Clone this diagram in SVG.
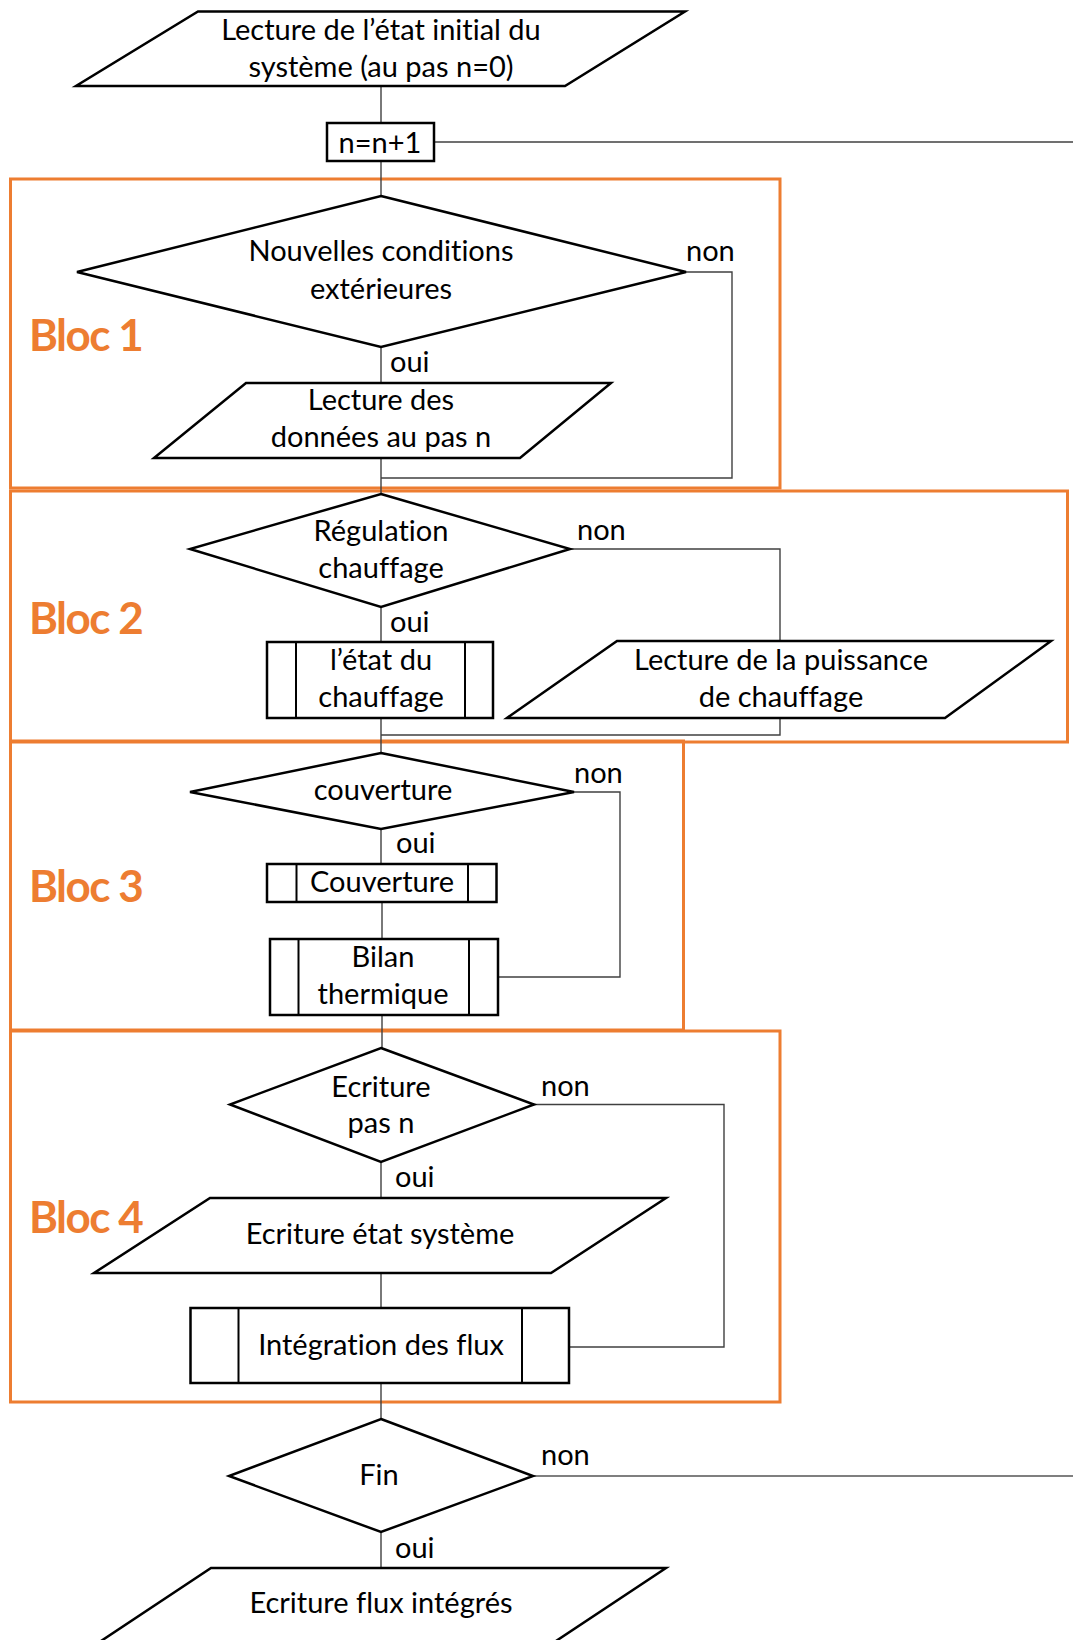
<svg xmlns="http://www.w3.org/2000/svg" width="1073" height="1640" viewBox="0 0 1073 1640">
<style>
.bg{fill:#ffffff}
.bloc{fill:none;stroke:#ED7D31;stroke-width:3}
.blt{font-family:Lato,"Open Sans",sans-serif;font-weight:bold;font-size:44px;letter-spacing:-1.5px;fill:#ED7D31}
.sh{fill:#ffffff;stroke:#000;stroke-width:2.5}
.in{fill:none;stroke:#000;stroke-width:2}
.t{font-family:Lato,"Open Sans",sans-serif;font-size:29px;fill:#000;text-anchor:middle;font-variant-ligatures:none}
.lb{font-family:Lato,"Open Sans",sans-serif;font-size:29px;fill:#000}
.cn{fill:none;stroke:#404040;stroke-width:1.4}
.cg{fill:none;stroke:#7f7f7f;stroke-width:2}
</style>
<rect class="bg" x="0" y="0" width="1073" height="1640"/>
<g id="blocs">
<rect class="bloc" x="10.5" y="179" width="769.5" height="309"/>
<rect class="bloc" x="10.5" y="491" width="1057" height="251"/>
<rect class="bloc" x="10.5" y="741" width="673" height="289"/>
<rect class="bloc" x="10.5" y="1031" width="769.5" height="371"/>
<text class="blt" x="29" y="351">Bloc 1</text>
<text class="blt" x="29" y="634">Bloc 2</text>
<text class="blt" x="29" y="902">Bloc 3</text>
<text class="blt" x="29" y="1233">Bloc 4</text>
</g>
<g id="connectors">
<path class="cn" d="M381,86 V123"/>
<path class="cn" d="M381,161 V196"/>
<path class="cn" d="M434,142 H1073"/>
<path class="cn" d="M381,347 V383"/>
<path class="cn" d="M686,272 H732 V478 H381"/>
<path class="cn" d="M381,458 V494"/>
<path class="cn" d="M381,607 V642"/>
<path class="cn" d="M570,549 H780 V641"/>
<path class="cn" d="M780,718 V735 H381"/>
<path class="cn" d="M381,718 V753"/>
<path class="cn" d="M381,829 V864"/>
<path class="cn" d="M574,792 H620 V977 H498"/>
<path class="cn" d="M382,902 V939"/>
<path class="cn" d="M382,1015 V1048"/>
<path class="cn" d="M381,1162 V1198"/>
<path class="cn" d="M534,1104.5 H724 V1347 H569"/>
<path class="cn" d="M381,1273 V1308"/>
<path class="cn" d="M381,1383 V1419"/>
<path class="cg" d="M533,1476 H1073"/>
<path class="cn" d="M381,1532 V1568"/>
</g>
<g id="n-start">
<polygon class="sh" points="198,11.5 685,11.5 565,86 76,86"/>
<text class="t" x="381" y="40">Lecture de l’état initial du</text>
<text class="t" x="381" y="77">système (au pas n=0)</text>
</g>
<g id="n-incr">
<rect class="sh" x="327" y="123" width="107" height="38"/>
<text class="t" x="380" y="153">n=n+1</text>
</g>
<g id="n-cond-ext">
<polygon class="sh" points="381,196 686,272 381,347 77,272"/>
<text class="t" x="381" y="261">Nouvelles conditions</text>
<text class="t" x="381" y="299">extérieures</text>
<text class="lb" x="686" y="261">non</text>
<text class="lb" x="390" y="372">oui</text>
</g>
<g id="n-lecture-donnees">
<polygon class="sh" points="246,383 611,383 520,458 154,458"/>
<text class="t" x="381" y="410">Lecture des</text>
<text class="t" x="381" y="447">données au pas n</text>
</g>
<g id="n-regulation">
<polygon class="sh" points="381,494 570,549 381,607 190,549"/>
<text class="t" x="381" y="541">Régulation</text>
<text class="t" x="381" y="578">chauffage</text>
<text class="lb" x="577" y="540">non</text>
<text class="lb" x="390" y="632">oui</text>
</g>
<g id="n-etat-chauffage">
<rect class="sh" x="267" y="642" width="226" height="76"/>
<line class="in" x1="296" y1="642" x2="296" y2="718"/>
<line class="in" x1="465" y1="642" x2="465" y2="718"/>
<text class="t" x="381" y="670">l’état du</text>
<text class="t" x="381" y="707">chauffage</text>
</g>
<g id="n-lecture-puissance">
<polygon class="sh" points="617,641 1051,641 945,718 507,718"/>
<text class="t" x="781" y="670">Lecture de la puissance</text>
<text class="t" x="781" y="707">de chauffage</text>
</g>
<g id="n-cond-couverture">
<polygon class="sh" points="381,753 574,792 381,829 190,792"/>
<text class="t" x="383" y="800">couverture</text>
<text class="lb" x="574" y="783">non</text>
<text class="lb" x="396" y="853">oui</text>
</g>
<g id="n-couverture">
<rect class="sh" x="267" y="864" width="229.5" height="38"/>
<line class="in" x1="296.5" y1="864" x2="296.5" y2="902"/>
<line class="in" x1="468" y1="864" x2="468" y2="902"/>
<text class="t" x="382" y="892">Couverture</text>
</g>
<g id="n-bilan">
<rect class="sh" x="270" y="939" width="228" height="76"/>
<line class="in" x1="298.5" y1="939" x2="298.5" y2="1015"/>
<line class="in" x1="469" y1="939" x2="469" y2="1015"/>
<text class="t" x="383" y="967">Bilan</text>
<text class="t" x="383" y="1004">thermique</text>
</g>
<g id="n-cond-ecriture">
<polygon class="sh" points="381,1048 534,1104.5 381,1162 230,1104.5"/>
<text class="t" x="381" y="1097">Ecriture</text>
<text class="t" x="381" y="1133">pas n</text>
<text class="lb" x="541" y="1096">non</text>
<text class="lb" x="395" y="1187">oui</text>
</g>
<g id="n-ecriture-etat">
<polygon class="sh" points="210,1198 666,1198 551,1273 94,1273"/>
<text class="t" x="380" y="1244">Ecriture état système</text>
</g>
<g id="n-integration">
<rect class="sh" x="190.5" y="1308" width="378.5" height="75"/>
<line class="in" x1="238.5" y1="1308" x2="238.5" y2="1383"/>
<line class="in" x1="522" y1="1308" x2="522" y2="1383"/>
<text class="t" x="381" y="1355">Intégration des flux</text>
</g>
<g id="n-fin">
<polygon class="sh" points="381,1419 533,1476 381,1532 229,1476"/>
<text class="t" x="379" y="1485">Fin</text>
<text class="lb" x="541" y="1465">non</text>
<text class="lb" x="395" y="1558">oui</text>
</g>
<g id="n-ecriture-flux">
<polygon class="sh" points="211,1568 666,1568 550,1645 95,1645"/>
<text class="t" x="381" y="1613">Ecriture flux intégrés</text>
</g>
</svg>
